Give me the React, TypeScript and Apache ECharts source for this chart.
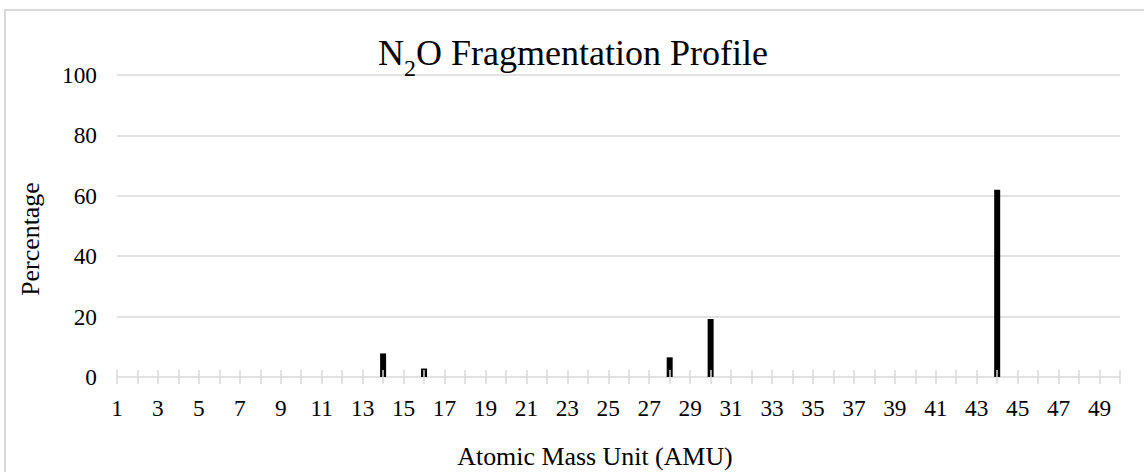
import React, { useEffect, useRef } from "react";
import * as echarts from "echarts";

const amuLabels = [
  "1", "2", "3", "4", "5", "6", "7", "8", "9", "10",
  "11", "12", "13", "14", "15", "16", "17", "18", "19", "20",
  "21", "22", "23", "24", "25", "26", "27", "28", "29", "30",
  "31", "32", "33", "34", "35", "36", "37", "38", "39", "40",
  "41", "42", "43", "44", "45", "46", "47", "48", "49", "50",
];
const peakAmu = ["14", "16", "28", "30", "44"];
const peakPct = [7.8, 2.8, 6.5, 19.2, 62];
const yTicks = { min: 0, max: 100, interval: 20 };

const chartTitle = "{a|N}{s|2}{a|O Fragmentation Profile}";
const xTitle = "Atomic Mass Unit (AMU)";
const yTitle = "Percentage";

const FONT = "'Liberation Serif', 'Times New Roman', serif";
const GRID_GRAY = "#d9d9d9";

export default function App() {
  const ref = useRef<HTMLDivElement>(null);
  useEffect(() => {
    if (!ref.current) return;
    const chart = echarts.init(ref.current, undefined, { renderer: "svg" });
    const data = amuLabels.map((a) => {
      const i = peakAmu.indexOf(a);
      return i >= 0 ? peakPct[i] : null;
    });
    chart.setOption({
      animation: false,
      backgroundColor: "#ffffff",
      title: {
        text: chartTitle,
        left: 378,
        top: 35,
        padding: 0,
        textStyle: {
          fontWeight: "normal",
          rich: {
            a: {
              fontFamily: FONT,
              fontSize: 36,
              fontWeight: "normal",
              lineHeight: 40,
              color: "#000",
              verticalAlign: "top",
            },
            s: {
              fontFamily: FONT,
              fontSize: 24,
              fontWeight: "normal",
              lineHeight: 24,
              padding: [21, 0, 0, 0],
              color: "#000",
              verticalAlign: "top",
            },
          },
        },
      },
      grid: { left: 117, right: 24, top: 75, bottom: 95, containLabel: false },
      xAxis: {
        type: "category",
        data: amuLabels,
        boundaryGap: false,
        offset: -7,
        z: 3,
        axisLine: { show: false, onZero: false },
        axisTick: {
          show: true,
          interval: 0,
          length: 14,
          lineStyle: { color: GRID_GRAY, width: 1.5 },
        },
        axisLabel: {
          interval: 1,
          margin: 26,
          fontFamily: FONT,
          fontSize: 23.3,
          color: "#000",
        },
        splitLine: { show: false },
      },
      yAxis: {
        type: "value",
        min: yTicks.min,
        max: yTicks.max,
        interval: yTicks.interval,
        axisLine: { show: false },
        axisTick: { show: false },
        axisLabel: {
          margin: 20,
          fontFamily: FONT,
          fontSize: 23.3,
          color: "#000",
        },
        splitLine: { show: true, lineStyle: { color: GRID_GRAY, width: 1.5 } },
      },
      series: [
        {
          type: "bar",
          data,
          barWidth: 6,
          itemStyle: { color: "#000000" },
        },
      ],
      graphic: [
        {
          type: "rect",
          shape: { x: 5, y: 10, width: 1160, height: 520 },
          style: { fill: "none", stroke: GRID_GRAY, lineWidth: 2 },
          silent: true,
        },
        {
          type: "text",
          x: 595,
          y: 456,
          style: {
            text: xTitle,
            fontFamily: FONT,
            fontSize: 25.9,
            fill: "#000",
            textAlign: "center",
            textVerticalAlign: "middle",
          },
        },
        {
          type: "text",
          x: 30,
          y: 239,
          rotation: Math.PI / 2,
          style: {
            text: yTitle,
            fontFamily: FONT,
            fontSize: 25.9,
            fill: "#000",
            textAlign: "center",
            textVerticalAlign: "middle",
          },
        },
      ],
    });
    return () => chart.dispose();
  }, []);
  return (
    <div
      ref={ref}
      style={{ position: "fixed", left: 0, top: 0, width: 1144, height: 472 }}
    />
  );
}
